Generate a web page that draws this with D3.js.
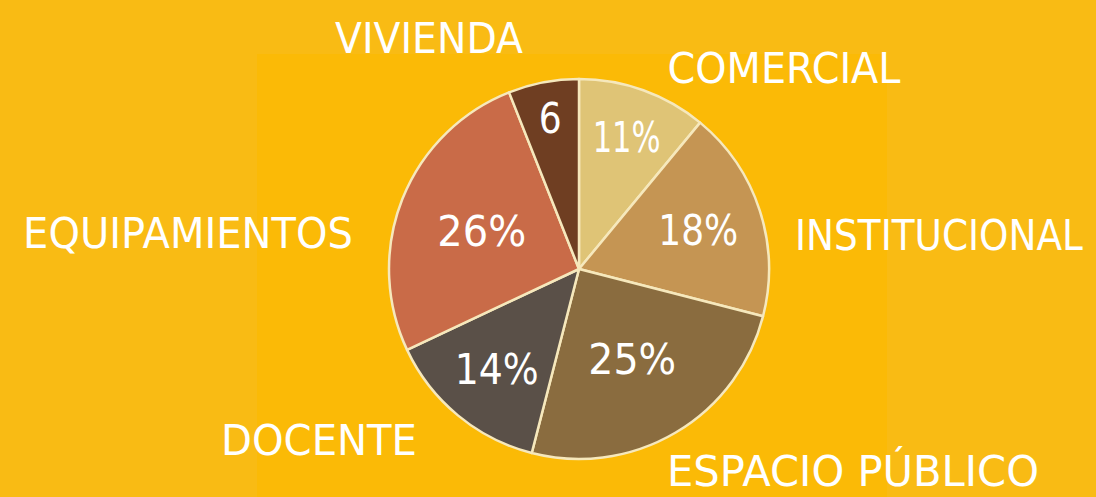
<!DOCTYPE html>
<html>
<head>
<meta charset="utf-8">
<script src="https://cdn.jsdelivr.net/npm/d3@7"></script>
<style>
  html, body { margin: 0; padding: 0; background: #F9BB13; overflow: hidden; }
  svg { display: block; }
  text { font-family: "DejaVu Sans", sans-serif; fill: #FFFFFF; }
</style>
</head>
<body>
<svg id="chart" width="1096" height="497"></svg>
<script>
// ---- data ----
const categories = ["COMERCIAL", "INSTITUCIONAL", "ESPACIO PÚBLICO", "DOCENTE", "EQUIPAMIENTOS", "VIVIENDA"];
const values = [11, 18, 25, 14, 26, 6];
const valueLabels = ["11%", "18%", "25%", "14%", "26%", "6"];
const colors = ["#DFC476", "#C59553", "#8A6C3F", "#5A5048", "#C96B48", "#6F3E22"];

// ---- layout ----
const W = 1096, H = 497;
const cx = 579, cy = 269, R = 190;
const innerLabelRadius = [0.74, 0.66, 0.55, 0.68, 0.55, 0.81];
const innerLabelWidth = [68, 80, 88, 84, 89, 23];
const outerLabelPos = [[784, 83], [939, 250], [853, 486], [319, 455], [188, 248], [429, 53]];
const outerLabelWidth = [233, 288, 372, 196, 330, 188];
const FS = 42;

const svg = d3.select("#chart");

// background panels
svg.append("rect").attr("x", 0).attr("y", 0).attr("width", W).attr("height", H).attr("fill", "#F9BB14");
svg.append("rect").attr("x", 257).attr("y", 54).attr("width", 630).attr("height", H - 54).attr("fill", "#FBBA06");

const data = categories.map((c, i) => ({ cat: c, value: values[i], label: valueLabels[i], color: colors[i], i }));

const pie = d3.pie().value(d => d.value).sort(null);
const arcs = pie(data);
const arc = d3.arc().innerRadius(0).outerRadius(R);

const g = svg.append("g").attr("transform", `translate(${cx},${cy})`);

g.selectAll("path.slice")
  .data(arcs)
  .join("path")
  .attr("class", "slice")
  .attr("d", arc)
  .attr("fill", d => d.data.color)
  .attr("stroke", "#F6E8BC")
  .attr("stroke-width", 2.5)
  .attr("stroke-linejoin", "round");

// place a text centred at (x, baseline y) and squeezed horizontally to a target width
function placeText(sel, x, y, str, targetW) {
  sel.attr("text-anchor", "middle").attr("font-size", FS).text(str);
  const nat = sel.node().getComputedTextLength() || targetW;
  const sx = targetW / nat;
  sel.attr("transform", `translate(${x},${y}) scale(${sx},1)`);
}

// inner labels
g.selectAll("text.val")
  .data(arcs)
  .join("text")
  .attr("class", "val")
  .each(function (d) {
    const r = R * innerLabelRadius[d.data.i];
    const a = (d.startAngle + d.endAngle) / 2;
    placeText(d3.select(this), Math.sin(a) * r, -Math.cos(a) * r + 15, d.data.label, innerLabelWidth[d.data.i]);
  });

// outer category labels
svg.selectAll("text.cat")
  .data(data)
  .join("text")
  .attr("class", "cat")
  .each(function (d) {
    placeText(d3.select(this), outerLabelPos[d.i][0], outerLabelPos[d.i][1], d.cat, outerLabelWidth[d.i]);
  });
</script>
</body>
</html>
